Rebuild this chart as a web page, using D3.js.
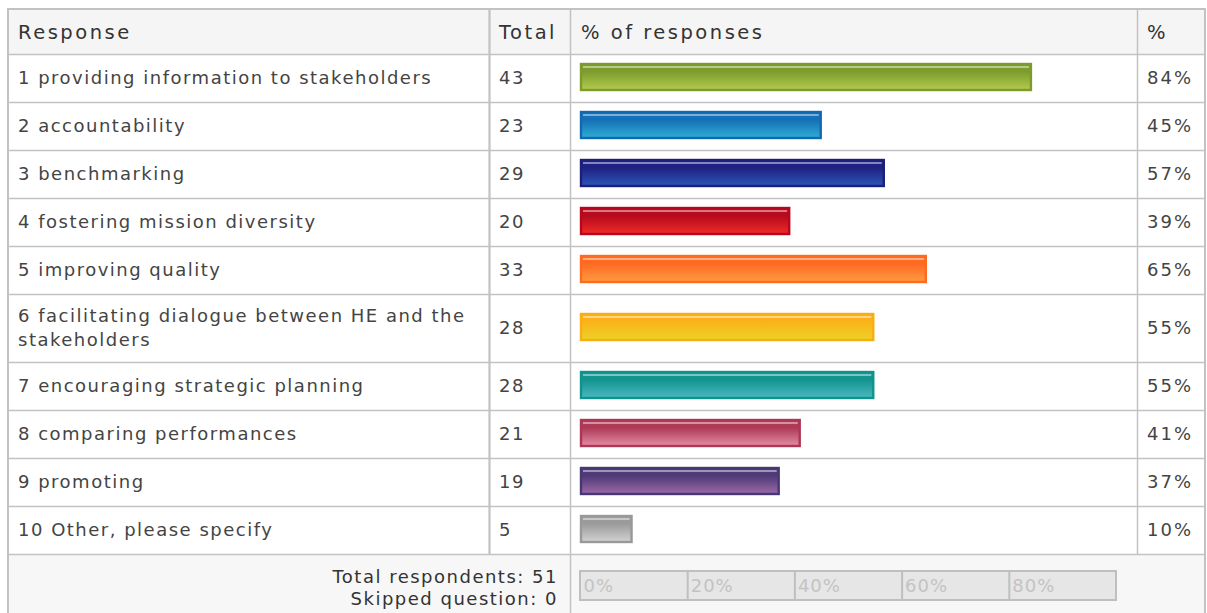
<!DOCTYPE html>
<html>
<head>
<meta charset="utf-8">
<script src="https://cdn.jsdelivr.net/npm/d3@7"></script>
<style>
  html, body { margin: 0; padding: 0; background: #ffffff; }
  svg { display: block; }
  text { font-family: "DejaVu Sans", Verdana, sans-serif; }
</style>
</head>
<body>
<svg id="chart" width="1207" height="613"></svg>
<script>
// Survey question: purposes served by the results
const responses = [
  "1 providing information to stakeholders",
  "2 accountability",
  "3 benchmarking",
  "4 fostering mission diversity",
  "5 improving quality",
  "6 facilitating dialogue between HE and the stakeholders",
  "7 encouraging strategic planning",
  "8 comparing performances",
  "9 promoting",
  "10 Other, please specify"
];
const totals = [43, 23, 29, 20, 33, 28, 28, 21, 19, 5];
const percentLabels = ["84%", "45%", "57%", "39%", "65%", "55%", "55%", "41%", "37%", "10%"];
const totalRespondents = 51;
const skippedQuestion = 0;
const axisTicks = [0, 0.2, 0.4, 0.6, 0.8];
const headers = ["Response", "Total", "% of responses", "%"];

// Bar palette: [border, gradient top, gradient bottom]
const barPalette = [
  ["#7b9c2c", "#7c9d2e", "#b6ca4e"],
  ["#1368b2", "#1470b7", "#2fadd3"],
  ["#1c1e7a", "#1f2282", "#2b55b9"],
  ["#b8061c", "#b60a1e", "#ef2b27"],
  ["#ff6a1e", "#ff6a22", "#ff9b42"],
  ["#f8ad14", "#fbb21a", "#ead426"],
  ["#0f938d", "#12948f", "#4cb9c1"],
  ["#ad3656", "#ae3a58", "#e28ca2"],
  ["#473775", "#4f3a78", "#9b6aa6"],
  ["#999999", "#9b9b9b", "#d2d2d2"]
];

const W = 1207, H = 613;
const tableLeft = 8, tableRight = 1205, tableTop = 9;
const headerH = 45, rowH = 48, lineH = 24, labelWrap = 455;
const gridColor = "#c2c2c2", textColor = "#444444", headColor = "#333333";
const fontSize = 18, letterSp = 1.5, headerSize = 19.5, headerSp = 2.5;

const svg = d3.select("#chart");

// Scale for the share of respondents
const x = d3.scaleLinear().domain([0, 1]).range([580, 1116]);

// Wrap labels to the Response column width
const measure = svg.append("text")
  .attr("font-size", fontSize).attr("letter-spacing", letterSp)
  .attr("visibility", "hidden");
function wrap(str) {
  const words = str.split(" ");
  const lines = [];
  let cur = "";
  words.forEach(w => {
    const test = cur ? cur + " " + w : w;
    measure.text(test);
    if (cur && measure.node().getComputedTextLength() > labelWrap) {
      lines.push(cur); cur = w;
    } else cur = test;
  });
  lines.push(cur);
  return lines;
}

const rows = responses.map((label, i) => ({
  label, lines: wrap(label), total: totals[i], pct: percentLabels[i],
  share: totals[i] / totalRespondents, colors: barPalette[i]
}));
measure.remove();

let yCursor = tableTop + headerH;
rows.forEach(r => {
  r.h = r.lines.length > 1 ? rowH + lineH - 4 : rowH;
  r.y0 = yCursor;
  yCursor += r.h;
});
const footerTop = yCursor;

// Header background
svg.append("rect")
  .attr("x", tableLeft).attr("y", tableTop)
  .attr("width", tableRight - tableLeft).attr("height", headerH)
  .attr("fill", "#f5f5f5");

// Footer background
svg.append("rect")
  .attr("x", tableLeft).attr("y", footerTop)
  .attr("width", tableRight - tableLeft).attr("height", H - footerTop + 5)
  .attr("fill", "#f7f7f7");

// Gradients for the bars
const defs = svg.append("defs");
rows.forEach((r, i) => {
  const g = defs.append("linearGradient")
    .attr("id", "bar-grad-" + i)
    .attr("x1", 0).attr("y1", 0).attr("x2", 0).attr("y2", 1);
  g.append("stop").attr("offset", "0%").attr("stop-color", r.colors[1]);
  g.append("stop").attr("offset", "30%").attr("stop-color", r.colors[1]);
  g.append("stop").attr("offset", "100%").attr("stop-color", r.colors[2]);
});

// Horizontal grid lines
const hLines = [tableTop + headerH].concat(rows.map(r => r.y0 + r.h));
svg.append("g").selectAll("line").data(hLines).join("line")
  .attr("x1", tableLeft).attr("x2", tableRight)
  .attr("y1", d => d + 0.5).attr("y2", d => d + 0.5)
  .attr("stroke", gridColor).attr("stroke-width", 1.5);

// Vertical grid lines
svg.append("line")
  .attr("x1", 489.5).attr("x2", 489.5).attr("y1", tableTop).attr("y2", footerTop)
  .attr("stroke", gridColor).attr("stroke-width", 2.2);
svg.append("line")
  .attr("x1", 1137.5).attr("x2", 1137.5).attr("y1", tableTop).attr("y2", footerTop)
  .attr("stroke", gridColor).attr("stroke-width", 1.5);
svg.append("line")
  .attr("x1", 570.5).attr("x2", 570.5).attr("y1", tableTop).attr("y2", H)
  .attr("stroke", gridColor).attr("stroke-width", 1.5);

// Outer border
svg.append("path")
  .attr("d", `M${tableLeft},${H} V${tableTop} H${tableRight} V${H}`)
  .attr("fill", "none").attr("stroke", gridColor).attr("stroke-width", 2);

// Header labels
const headerPos = [18, 499, 581, 1147];
svg.append("g").selectAll("text").data(headers).join("text")
  .attr("x", (d, i) => headerPos[i])
  .attr("y", tableTop + headerH / 2)
  .attr("dy", "0.36em")
  .attr("font-size", headerSize).attr("letter-spacing", headerSp)
  .attr("fill", headColor)
  .text(d => d);

// Rows
const rowG = svg.append("g").selectAll("g").data(rows).join("g")
  .attr("transform", d => `translate(0,${d.y0})`);

rowG.append("text")
  .attr("x", 18)
  .attr("y", d => d.h / 2 - (d.lines.length - 1) * lineH / 2)
  .attr("font-size", fontSize).attr("letter-spacing", letterSp)
  .attr("fill", textColor)
  .each(function (d) {
    const t = d3.select(this);
    d.lines.forEach((ln, k) => {
      t.append("tspan").attr("x", 18).attr("dy", k === 0 ? "0.36em" : lineH).text(ln);
    });
  });

rowG.append("text")
  .attr("x", 499).attr("y", d => d.h / 2).attr("dy", "0.36em")
  .attr("font-size", fontSize).attr("letter-spacing", letterSp)
  .attr("fill", textColor)
  .text(d => d.total);

rowG.append("text")
  .attr("x", 1147).attr("y", d => d.h / 2).attr("dy", "0.36em")
  .attr("font-size", fontSize).attr("letter-spacing", 2)
  .attr("fill", textColor)
  .text(d => d.pct);

// Bars
const barH = 28;
const bar = rowG.append("g")
  .attr("transform", d => `translate(0,${d.h / 2 - barH / 2 - 1})`);
bar.append("rect")
  .attr("x", x(0) + 1).attr("y", 1)
  .attr("width", d => x(d.share) - x(0) - 2).attr("height", barH - 2)
  .attr("fill", (d, i) => `url(#bar-grad-${i})`)
  .attr("stroke", d => d.colors[0]).attr("stroke-width", 2.4);
bar.append("rect")
  .attr("x", x(0) + 3).attr("y", 3)
  .attr("width", d => Math.max(0, x(d.share) - x(0) - 6)).attr("height", 2)
  .attr("fill", "#ffffff").attr("fill-opacity", 0.45);

// Footer summary
const footerText = svg.append("text")
  .attr("text-anchor", "end")
  .attr("font-size", fontSize).attr("letter-spacing", letterSp)
  .attr("fill", headColor);
footerText.append("tspan").attr("x", 558).attr("y", footerTop + 29)
  .text(`Total respondents: ${totalRespondents}`);
footerText.append("tspan").attr("x", 558).attr("y", footerTop + 51)
  .text(`Skipped question: ${skippedQuestion}`);

// Percentage scale strip
const axisTop = footerTop + 17, axisH = 29;
svg.append("rect")
  .attr("x", x(0)).attr("y", axisTop)
  .attr("width", x(1) - x(0)).attr("height", axisH)
  .attr("fill", "#e6e6e6").attr("stroke", "#bfbfbf").attr("stroke-width", 2);

const axis = d3.axisBottom(x)
  .tickValues(axisTicks)
  .tickSize(-axisH)
  .tickFormat(d3.format(".0%"));
const axisG = svg.append("g")
  .attr("transform", `translate(0,${axisTop + axisH})`)
  .call(axis);
axisG.select(".domain").remove();
axisG.selectAll(".tick line")
  .attr("stroke", "#bfbfbf").attr("stroke-width", 2)
  .attr("display", d => d === 0 ? "none" : null);
axisG.selectAll(".tick text")
  .attr("text-anchor", "start")
  .attr("x", 3).attr("y", -axisH / 2).attr("dy", "0.36em")
  .attr("font-size", fontSize).attr("letter-spacing", 1)
  .attr("font-family", "DejaVu Sans, sans-serif")
  .attr("fill", "#c3c3c3");
</script>
</body>
</html>
